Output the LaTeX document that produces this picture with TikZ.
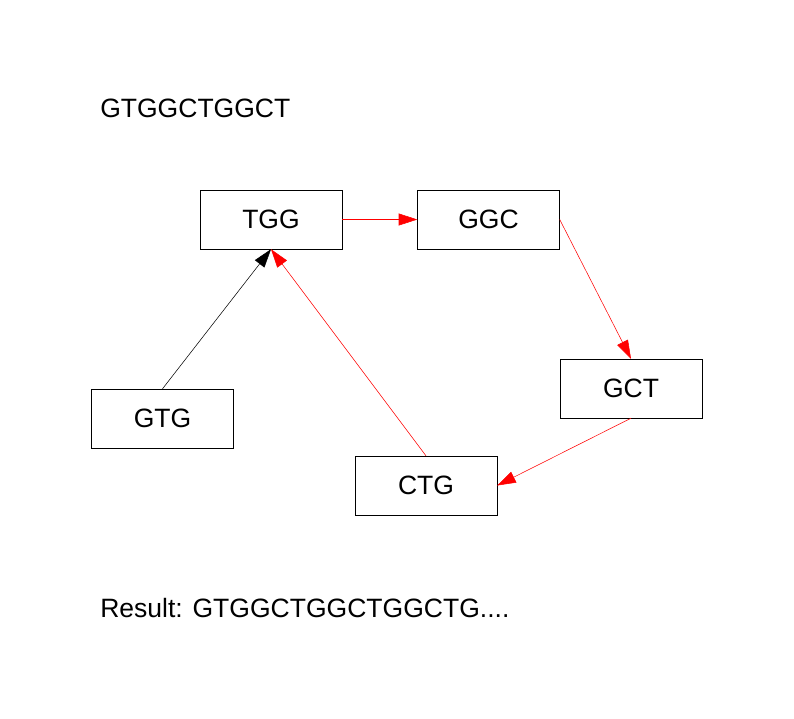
\documentclass[tikz,border=0pt]{standalone}
\usepackage{fontspec}
\setmainfont{Liberation Sans}
\usetikzlibrary{arrows.meta}

\begin{document}
\begin{tikzpicture}[x=0.0265cm,y=-0.0265cm,
	kmer/.style={draw,thin,minimum width=3.76cm,minimum height=1.56cm,inner sep=0pt,font=\fontsize{20}{24}\selectfont},
	seq/.style={anchor=west,inner sep=0pt,font=\fontsize{20}{24}\selectfont},
	link/.style={-{Triangle[length=14pt,width=9pt]},line width=0.4pt},
	]
	\useasboundingbox (0,0) rectangle (794,718);
	\node[seq] (input) at (100,108){GTGGCTGGCT};
	\node[kmer] (tgg) at (271,219.5){TGG};
	\node[kmer] (ggc) at (488.5,219.5){GGC};
	\node[kmer] (gct) at (631,388.5){GCT};
	\node[kmer] (gtg) at (162.5,418.5){GTG};
	\node[kmer] (ctg) at (426,485.5){CTG};
	\node[seq] (result) at (100,608){Result: GTGGCTGGCTGGCTG....};
	\draw[link,black] (gtg.north) -- (tgg.south);
	\draw[link,red] (tgg.east) -- (ggc.west);
	\draw[link,red] (ggc.east) -- (gct.north);
	\draw[link,red] (gct.south) -- (ctg.east);
	\draw[link,red] (ctg.north) -- (tgg.south);
	\end{tikzpicture}
\end{document}
